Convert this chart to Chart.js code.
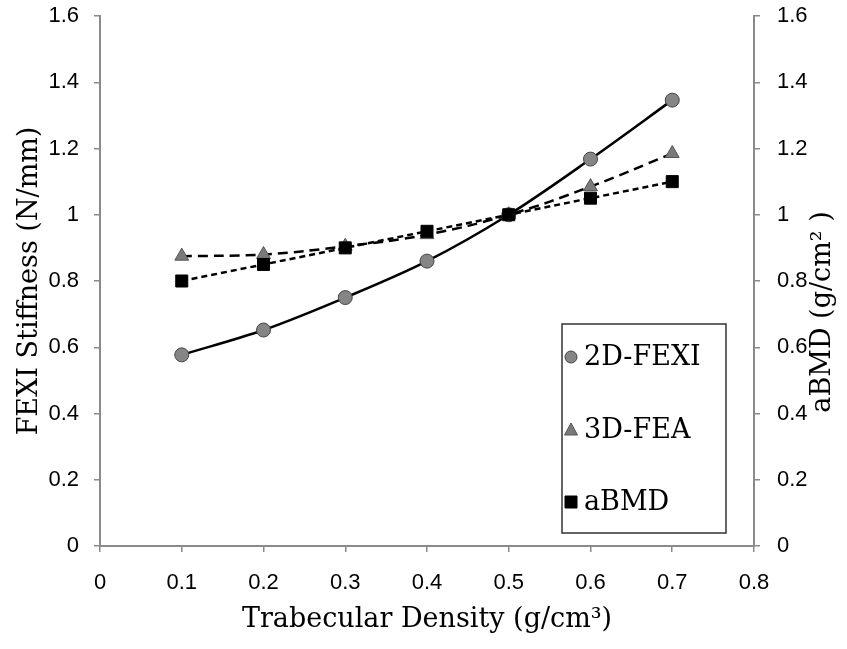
<!DOCTYPE html>
<html>
<head>
<meta charset="utf-8">
<script src="https://cdn.jsdelivr.net/npm/chart.js@4/dist/chart.umd.min.js"></script>
<style>
  html, body { margin: 0; padding: 0; background: #fff; }
  #wrap { width: 847px; height: 649px; }
</style>
</head>
<body>
<div id="wrap"><canvas id="stiffness" width="847" height="649"></canvas></div>
<script>
// values
const density = [0.1, 0.2, 0.3, 0.4, 0.5, 0.6, 0.7];
const fexi2d = [0.577, 0.652, 0.750, 0.860, 1.0, 1.168, 1.346];
const fea3d = [0.875, 0.880, 0.905, 0.940, 1.0, 1.085, 1.185];
const abmd = [0.80, 0.85, 0.90, 0.95, 1.0, 1.05, 1.10];
const yTicks = [0, 0.2, 0.4, 0.6, 0.8, 1, 1.2, 1.4, 1.6];
const xTicks = [0, 0.1, 0.2, 0.3, 0.4, 0.5, 0.6, 0.7, 0.8];

const serif = "'DejaVu Serif', 'Liberation Serif', serif";
const sans = "'Liberation Sans', Arial, sans-serif";
const axisGray = '#8a8a8a';

function pts(ys) {
  return density.map((x, i) => ({ x: x, y: ys[i] }));
}

// legend drawn inside the plot, and the right title reading bottom-up
const boxLegend = {
  id: 'boxLegend',
  afterDraw(chart) {
    const ctx = chart.ctx;
    ctx.save();
    ctx.strokeStyle = '#333';
    ctx.lineWidth = 1.5;
    ctx.fillStyle = '#fff';
    ctx.fillRect(562, 324, 164, 209);
    ctx.strokeRect(562, 324, 164, 209);
    const rows = [357, 430, 502];
    chart.data.datasets.forEach((ds, i) => {
      const y = rows[i];
      ctx.save();
      ctx.fillStyle = ds.pointBackgroundColor;
      ctx.strokeStyle = ds.pointBorderColor;
      ctx.lineWidth = 1;
      ctx.beginPath();
      if (ds.pointStyle === 'circle') {
        ctx.arc(571, y, 6, 0, Math.PI * 2);
      } else if (ds.pointStyle === 'triangle') {
        ctx.moveTo(571, y - 7); ctx.lineTo(577.5, y + 5); ctx.lineTo(564.5, y + 5); ctx.closePath();
      } else {
        ctx.rect(565, y - 6, 12, 12);
      }
      ctx.fill(); ctx.stroke();
      ctx.restore();
      ctx.fillStyle = '#000';
      ctx.font = '27px ' + serif;
      ctx.textBaseline = 'middle';
      ctx.textAlign = 'left';
      ctx.fillText(ds.label, 584, y + 1);
    });
    ctx.translate(823, 312);
    ctx.rotate(-Math.PI / 2);
    ctx.font = '27px ' + serif;
    ctx.fillStyle = '#000';
    ctx.textAlign = 'center';
    ctx.textBaseline = 'middle';
    ctx.fillText('aBMD (g/cm\u00B2 )', 0, 0);
    ctx.restore();
  }
};

const tickStyle = {
  color: '#000',
  font: { family: sans, size: 22 },
};

// keep the plot box where the figure has it
function noEdgePad(s) {
  s.paddingTop = 0; s.paddingBottom = 0;
  s.paddingLeft = 0; s.paddingRight = 0;
}

new Chart(document.getElementById('stiffness'), {
  type: 'line',
  data: {
    datasets: [
      {
        label: '2D-FEXI',
        data: pts(fexi2d),
        borderColor: '#000',
        borderWidth: 2.5,
        tension: 0.4,
        cubicInterpolationMode: 'monotone',
        pointStyle: 'circle',
        pointRadius: 7,
        pointBackgroundColor: '#858585',
        pointBorderColor: '#444',
        pointBorderWidth: 1,
        order: 3,
        yAxisID: 'y'
      },
      {
        label: '3D-FEA',
        data: pts(fea3d),
        borderColor: '#000',
        borderWidth: 2.5,
        borderDash: [10, 6],
        tension: 0.4,
        pointStyle: 'triangle',
        pointRadius: 8,
        pointBackgroundColor: '#7a7a7a',
        pointBorderColor: '#555',
        pointBorderWidth: 1,
        order: 2,
        yAxisID: 'y'
      },
      {
        label: 'aBMD',
        data: pts(abmd),
        borderColor: '#000',
        borderWidth: 2.5,
        borderDash: [6, 4],
        tension: 0,
        pointStyle: 'rect',
        pointRadius: 8.5,
        pointBackgroundColor: '#000',
        pointBorderColor: '#000',
        pointBorderWidth: 1,
        order: 1,
        yAxisID: 'y2'
      }
    ]
  },
  options: {
    responsive: false,
    animation: false,
    layout: { padding: { top: 16, left: 0, right: 0, bottom: 0 } },
    plugins: {
      legend: { display: false },
      tooltip: { enabled: false }
    },
    scales: {
      x: {
        type: 'linear',
        min: 0, max: 0.8,
        afterBuildTicks: (s) => { s.ticks = xTicks.map(v => ({ value: v })); },
        afterFit: (s) => { s.height = 103; noEdgePad(s); },
        ticks: { ...tickStyle, padding: 18, autoSkip: false, maxRotation: 0, callback: (v) => String(v) },
        grid: { drawOnChartArea: false, drawTicks: true, tickLength: 6, color: axisGray, lineWidth: 1.5 },
        border: { color: axisGray, width: 2 },
        title: {
          display: true,
          text: 'Trabecular Density (g/cm\u00B3)',
          color: '#000',
          font: { family: serif, size: 27 },
          padding: { top: 8, bottom: 13 }
        }
      },
      y: {
        position: 'left',
        min: 0, max: 1.6,
        afterBuildTicks: (s) => { s.ticks = yTicks.map(v => ({ value: v })); },
        afterFit: (s) => { s.width = 100; noEdgePad(s); },
        ticks: { ...tickStyle, padding: 15, autoSkip: false, callback: (v) => String(v) },
        grid: { drawOnChartArea: false, drawTicks: true, tickLength: 6, color: axisGray, lineWidth: 1.5 },
        border: { color: axisGray, width: 2 },
        title: {
          display: true,
          text: 'FEXI Stiffness (N/mm)',
          color: '#000',
          font: { family: serif, size: 27 },
          padding: { top: 14, bottom: 4 }
        }
      },
      y2: {
        position: 'right',
        min: 0, max: 1.6,
        afterBuildTicks: (s) => { s.ticks = yTicks.map(v => ({ value: v })); },
        afterFit: (s) => { s.width = 93; noEdgePad(s); },
        ticks: { ...tickStyle, padding: 17, autoSkip: false, callback: (v) => String(v) },
        grid: { drawOnChartArea: false, drawTicks: true, tickLength: 6, color: axisGray, lineWidth: 1.5 },
        border: { color: axisGray, width: 2 }
      }
    }
  },
  plugins: [boxLegend]
});
</script>
</body>
</html>
